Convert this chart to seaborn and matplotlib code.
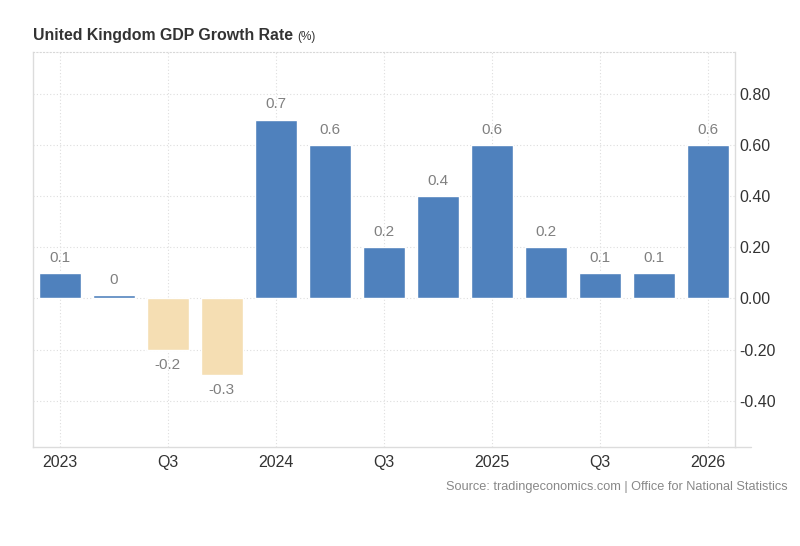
import matplotlib
matplotlib.use("Agg")
import matplotlib.pyplot as plt
import seaborn as sns
import pandas as pd

periods = ["2023 Q1", "2023 Q2", "2023 Q3", "2023 Q4",
           "2024 Q1", "2024 Q2", "2024 Q3", "2024 Q4",
           "2025 Q1", "2025 Q2", "2025 Q3", "2025 Q4", "2026 Q1"]
values = [0.1, 0.012, -0.2, -0.3, 0.7, 0.6, 0.2, 0.4, 0.6, 0.2, 0.1, 0.1, 0.6]
value_labels = ["0.1", "0", "-0.2", "-0.3", "0.7", "0.6", "0.2", "0.4", "0.6", "0.2", "0.1", "0.1", "0.6"]
tick_pos = [0, 2, 4, 6, 8, 10, 12]
tick_labels = ["2023", "Q3", "2024", "Q3", "2025", "Q3", "2026"]
y_ticks = [-0.4, -0.2, 0.0, 0.2, 0.4, 0.6, 0.8]

sns.set_style("white")
plt.rcParams['font.family'] = ['Liberation Sans', 'DejaVu Sans']

df = pd.DataFrame({"period": periods, "value": values})
df["sign"] = ["pos" if v >= 0 else "neg" for v in values]

fig = plt.figure(figsize=(8, 5.46), dpi=100)
ax = fig.add_axes([0.041, 0.182, 0.878, 0.723])

sns.barplot(data=df, x="period", y="value", hue="sign", dodge=False,
            palette={"pos": "#4f81bd", "neg": "#f5deb3"}, width=0.78,
            legend=False, ax=ax, order=periods, saturation=1)

ax.set_xlim(-0.5, len(periods) - 0.5)
ax.set_ylim(-0.58, 0.965)

ax.yaxis.tick_right()
ax.set_yticks(y_ticks)
ax.set_yticklabels([f"{t:.2f}" for t in y_ticks], fontsize=11.5, color="#333333")
ax.set_xticks(tick_pos)
ax.set_xticklabels(tick_labels, fontsize=11.5, color="#333333")
ax.tick_params(axis="y", length=0, pad=3)
ax.tick_params(axis="x", length=0, pad=6)
ax.set_xlabel("")
ax.set_ylabel("")

ax.grid(True, linestyle=(0, (1, 2)), color="#dedede", linewidth=0.8)
ax.set_axisbelow(True)

for side in ["left", "right", "bottom"]:
    ax.spines[side].set_visible(True)
    ax.spines[side].set_color("#dcdcdc")
    ax.spines[side].set_linewidth(1)
ax.spines["top"].set_visible(True)
ax.spines["top"].set_color("#d8d8d8")
ax.spines["top"].set_linestyle((0, (1, 2)))
ax.spines["top"].set_linewidth(0.8)
ax.plot([1.0, 1.023], [0, 0], transform=ax.transAxes, color="#dcdcdc",
        linewidth=1, clip_on=False)

for i, (v, lab) in enumerate(zip(values, value_labels)):
    if v >= 0:
        ax.annotate(lab, (i, v), xytext=(0, 6), textcoords="offset points",
                    ha="center", va="bottom", fontsize=11, color="#808080")
    else:
        ax.annotate(lab, (i, v), xytext=(0, -6), textcoords="offset points",
                    ha="center", va="top", fontsize=11, color="#808080")

fig.text(0.041, 0.927, "United Kingdom GDP Growth Rate", fontsize=11.4,
         fontweight="bold", color="#333333", ha="left", va="baseline")
fig.text(0.371, 0.927, "(%)", fontsize=8.5, color="#333333", ha="left", va="baseline")

fig.text(0.984, 0.102, "Source: tradingeconomics.com | Office for National Statistics",
         fontsize=9.2, color="#888888", ha="right", va="baseline")

fig.savefig("out.png", dpi=100, facecolor="white")
